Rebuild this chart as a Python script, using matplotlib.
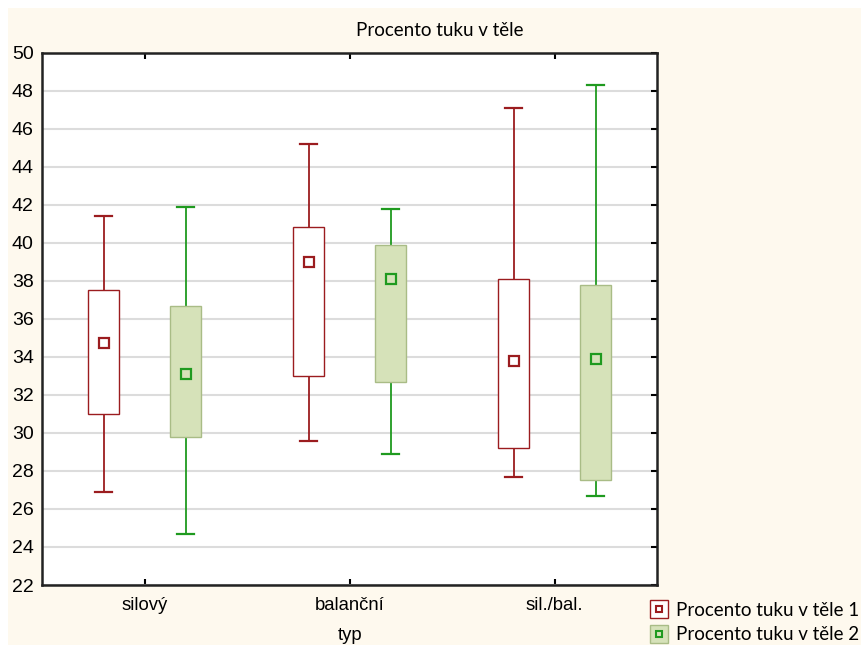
import numpy as np
import matplotlib.pyplot as plt
from matplotlib.patches import Rectangle
from matplotlib.lines import Line2D

kategorie = ['silový', 'balanční', 'sil./bal.']
serie = ['Procento tuku v těle 1', 'Procento tuku v těle 2']

# whisker min/max, box bottom/top, mean marker
s1_min = [26.9, 29.6, 27.7]
s1_q1 = [31.0, 33.0, 29.2]
s1_mean = [34.75, 39.0, 33.8]
s1_q3 = [37.5, 40.85, 38.1]
s1_max = [41.4, 45.2, 47.1]

s2_min = [24.7, 28.9, 26.7]
s2_q1 = [29.8, 32.7, 27.5]
s2_mean = [33.1, 38.1, 33.9]
s2_q3 = [36.7, 39.9, 37.8]
s2_max = [41.9, 41.8, 48.3]

cerv = '#9b1c1f'
zel = '#1f9a1f'
zel_fill = '#d6e2b9'
zel_edge = '#a9bc86'

fig = plt.figure(figsize=(8.61, 6.45), dpi=100, facecolor='white')
fig.patches.append(Rectangle((8 / 861, 0), 1, 1 - 8 / 645, transform=fig.transFigure,
                             facecolor='#fef9ee', edgecolor='none', zorder=-10))
ax = fig.add_axes([42 / 861, 1 - 585 / 645, 615 / 861, 532 / 645])
ax.set_facecolor('white')

x = np.arange(3) + 0.5
off = 0.2
bw = 0.156
cap = 0.04

data = [
    (x - off, s1_min, s1_q1, s1_mean, s1_q3, s1_max, cerv, 'white', cerv),
    (x + off, s2_min, s2_q1, s2_mean, s2_q3, s2_max, zel, zel_fill, zel_edge),
]
for xs, mn, q1, mu, q3, mx, c, fill, edge in data:
    for i in range(3):
        ax.plot([xs[i], xs[i]], [mn[i], q1[i]], color=c, lw=1.3, zorder=3)
        ax.plot([xs[i], xs[i]], [q3[i], mx[i]], color=c, lw=1.3, zorder=3)
        ax.plot([xs[i] - cap, xs[i] + cap], [mn[i], mn[i]], color=c, lw=1.6, zorder=3)
        ax.plot([xs[i] - cap, xs[i] + cap], [mx[i], mx[i]], color=c, lw=1.6, zorder=3)
        ax.add_patch(Rectangle((xs[i] - bw / 2, q1[i]), bw, q3[i] - q1[i],
                               facecolor=fill, edgecolor=edge, lw=1.0, zorder=4))
    ax.plot(xs, mu, ls='none', marker='s', ms=7.5, mfc='none', mec=c, mew=1.6, zorder=5)

ax.set_xlim(0, 3)
ax.set_ylim(22, 50)
ax.set_yticks(np.arange(22, 51, 2))
ax.set_xticks(x)
ax.set_xticklabels(kategorie, family='Liberation Sans', fontsize=13.3)
ax.set_yticklabels([str(v) for v in range(22, 51, 2)], family='Liberation Sans', fontsize=14)
ax.grid(axis='y', color='#dcdcdc', lw=1.5, zorder=0)
ax.set_axisbelow(True)
ax.tick_params(axis='y', direction='in', length=4, width=1.5, right=True, left=False,
               labelleft=True, pad=6)
ax.tick_params(axis='x', direction='in', length=4, width=1.5, top=True, bottom=True, pad=9)
for s in ax.spines.values():
    s.set_linewidth(1.8)
    s.set_color('#222222')

fig.text(440 / 861, 1 - 30 / 645, 'Procento tuku v těle', ha='center', va='center',
         family='Lato', fontsize=13.5)
fig.text(350 / 861, 1 - 635 / 645, 'typ', ha='center', va='center',
         family='Liberation Sans', fontsize=13.3)

h1 = (Line2D([], [], ls='none', marker='s', ms=13, mfc='white', mec=cerv, mew=1.0),
      Line2D([], [], ls='none', marker='s', ms=5, mfc='none', mec=cerv, mew=1.5))
h2 = (Line2D([], [], ls='none', marker='s', ms=13, mfc=zel_fill, mec=zel_edge, mew=1.0),
      Line2D([], [], ls='none', marker='s', ms=5, mfc='none', mec=zel, mew=1.5))
fig.legend([h1, h2], serie, loc='lower right', bbox_to_anchor=(1.0, 0.0), frameon=False,
           prop={'family': 'Lato', 'size': 13.5}, handletextpad=0.4, labelspacing=0.4,
           borderaxespad=0.0, borderpad=0.1, handlelength=1.0)

fig.savefig('out.png', dpi=100, facecolor='white')
